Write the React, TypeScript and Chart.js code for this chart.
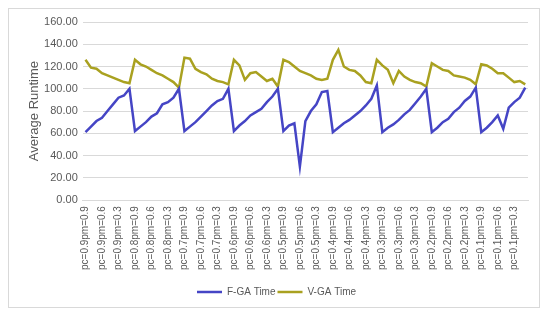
import React, { useEffect, useRef } from "react";
import { Chart, registerables } from "chart.js";

Chart.register(...registerables);

const pcValues = ["0.9", "0.8", "0.7", "0.6", "0.5", "0.4", "0.3", "0.2", "0.1"];
const pmValues = ["0.9", "0.8", "0.7", "0.6", "0.5", "0.4", "0.3", "0.2", "0.1"];

const categories: string[] = [];
pcValues.forEach((pc) => pmValues.forEach((pm) => categories.push(`pc=${pc}pm=${pm}`)));

const fgaTime = [
  61, 66, 71, 74, 80, 86, 92, 94, 100,
  62, 66, 70, 75, 78, 86, 88, 92, 100,
  62, 66, 70, 75, 80, 85, 89, 91, 100,
  62, 67, 71, 76, 79, 82, 88, 93, 100,
  62, 67, 69, 30, 71, 80, 86, 97, 98,
  61, 65, 69, 72, 76, 80, 85, 91, 103,
  61, 65, 68, 72, 77, 81, 87, 93, 100,
  61, 65, 70, 73, 79, 83, 89, 93, 101,
  61, 65, 70, 76, 64, 83, 88, 92, 101,
];

const vgaTime = [
  126, 119, 118, 114, 112, 110, 108, 106, 105,
  126, 122, 120, 117, 114, 112, 109, 106, 101,
  128, 127, 118, 115, 113, 109, 107, 106, 104,
  126, 121, 108, 114, 115, 111, 107, 109, 102,
  126, 124, 120, 116, 114, 112, 109, 108, 109,
  126, 135, 120, 117, 116, 112, 106, 105, 126,
  121, 117, 105, 116, 111, 108, 106, 105, 102,
  123, 120, 117, 116, 112, 111, 110, 108, 104,
  122, 121, 118, 114, 114, 110, 106, 107, 104,
];

const yTicksMin = 0;
const yTicksMax = 160;
const yTickStep = 20;

export default function App() {
  const ref = useRef<HTMLCanvasElement | null>(null);
  useEffect(() => {
    if (!ref.current) return;
    const font = "'Liberation Sans', Arial, sans-serif";
    const chart = new Chart(ref.current, {
      type: "line",
      data: {
        labels: categories,
        datasets: [
          {
            label: "F-GA Time",
            data: fgaTime,
            borderColor: "#4545C5",
            backgroundColor: "#4545C5",
            borderWidth: 2.5,
            pointRadius: 0,
            tension: 0,
          },
          {
            label: "V-GA Time",
            data: vgaTime,
            borderColor: "#A9A120",
            backgroundColor: "#A9A120",
            borderWidth: 2.5,
            pointRadius: 0,
            tension: 0,
          },
        ],
      },
      options: {
        responsive: false,
        animation: false,
        layout: { padding: { left: 16, right: 11, top: 13, bottom: 0 } },
        plugins: {
          legend: {
            position: "bottom",
            labels: {
              usePointStyle: true,
              pointStyle: "line",
              pointStyleWidth: 25,
              boxHeight: 10,
              color: "#595959",
              font: { family: font, size: 10 },
              padding: 2,
            },
          },
          tooltip: { enabled: false },
        },
        scales: {
          x: {
            offset: true,
            grid: { display: false, drawTicks: false },
            border: { display: true, color: "#d9d9d9" },
            afterFit: (scale: any) => {
              scale.paddingRight = 0;
            },
            title: {
              display: true,
              text: " ",
              font: { family: font, size: 1, lineHeight: 1 },
              padding: { top: 0, bottom: 8 },
            },
            ticks: {
              autoSkip: false,
              maxRotation: 90,
              minRotation: 90,
              padding: 6,
              color: "#595959",
              font: { family: font, size: 10 },
              callback: (_v: any, i: number) => (i % 3 === 0 ? categories[i] : ""),
            },
          },
          y: {
            min: yTicksMin,
            max: yTicksMax,
            grid: { color: "#d9d9d9", drawTicks: false },
            border: { display: false },
            ticks: {
              stepSize: yTickStep,
              padding: 5,
              color: "#595959",
              font: { family: font, size: 11 },
              callback: (v: any) => Number(v).toFixed(2),
            },
            title: {
              display: true,
              text: "Average Runtime",
              color: "#595959",
              font: { family: font, size: 13, lineHeight: 0.7 },
              padding: { top: 5, bottom: 0 },
            },
          },
        },
      },
    });
    return () => chart.destroy();
  }, []);
  return (
    <div style={{ width: 530, height: 298, border: "1px solid #d9d9d9", background: "#fff" }}>
      <canvas ref={ref} width={530} height={298} style={{ display: "block" }} />
    </div>
  );
}
